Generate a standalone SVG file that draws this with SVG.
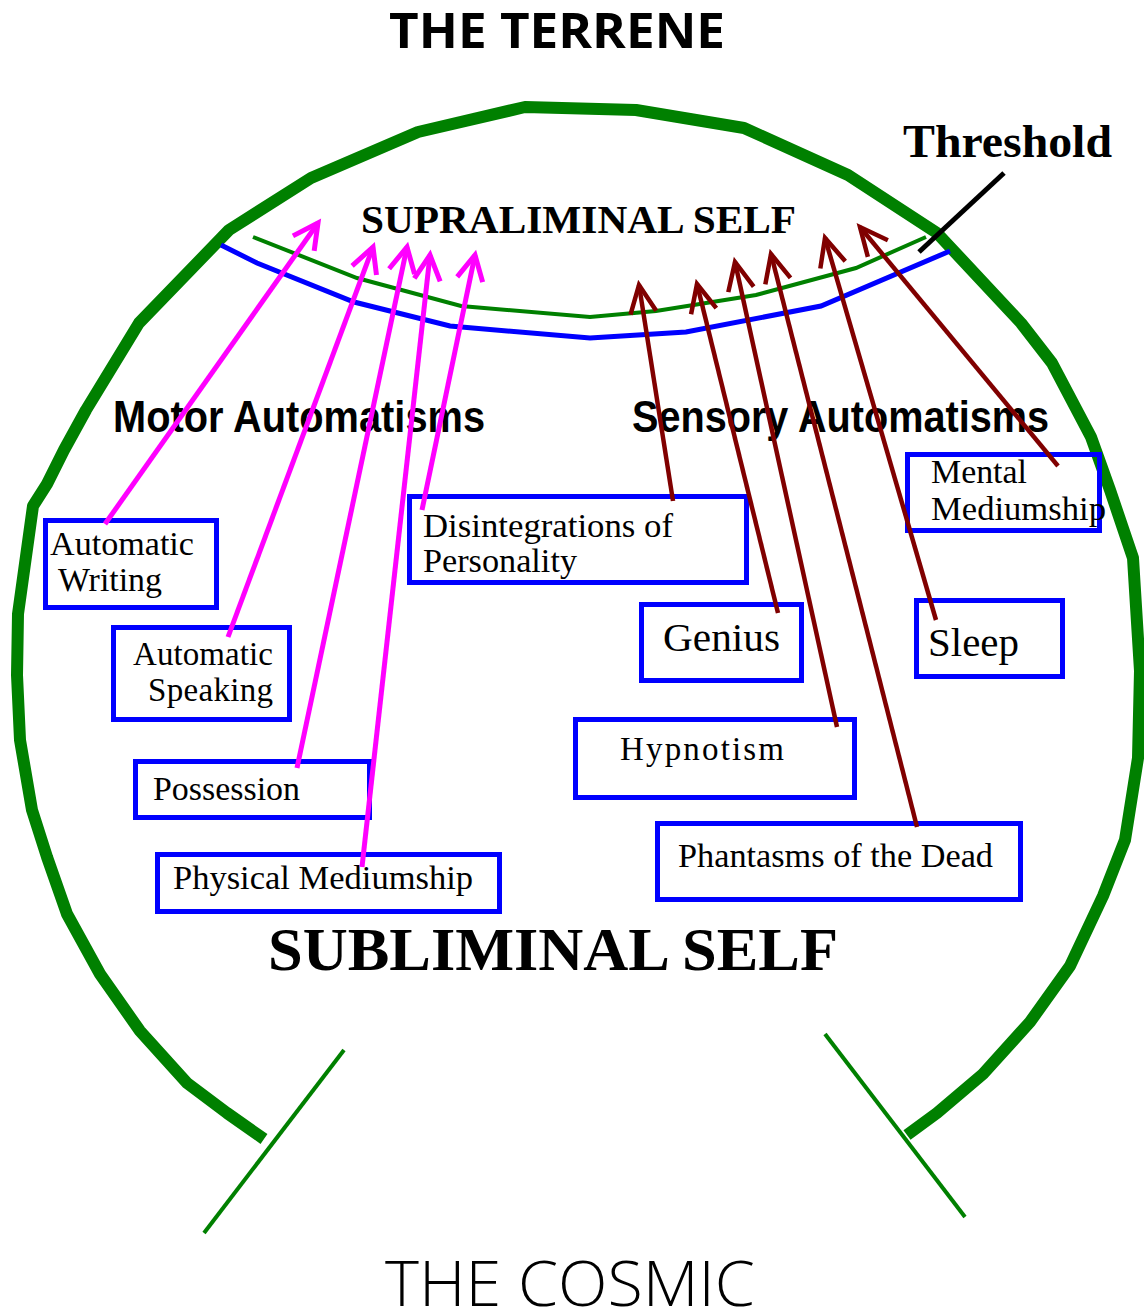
<svg xmlns="http://www.w3.org/2000/svg" width="1144" height="1313" viewBox="0 0 1144 1313">
<style>
.box{fill:none;stroke:#0000ff;stroke-width:5}
.bt{font-family:"Liberation Serif","Times New Roman",serif;font-size:33px;fill:#000}
.big{font-family:"Liberation Serif","Times New Roman",serif;font-size:41px;fill:#000}
.mag{stroke:#ff00ff;stroke-width:5;fill:none;marker-end:url(#am)}
.red{stroke:#800000;stroke-width:4.5;fill:none;marker-end:url(#ar)}
.hd{font-family:"Liberation Sans",Arial,sans-serif;font-weight:bold;font-size:45px;fill:#000}
.ser{font-family:"Liberation Serif","Times New Roman",serif;font-weight:bold;fill:#000}
</style>
<defs>
<marker id="am" markerUnits="userSpaceOnUse" orient="auto" refX="0" refY="0" markerWidth="40" markerHeight="40" viewBox="-30 -20 40 40" overflow="visible">
<path d="M-25,-13 L0,0 L-25,13" fill="none" stroke="#ff00ff" stroke-width="5"/>
</marker>
<marker id="ar" markerUnits="userSpaceOnUse" orient="auto" refX="0" refY="0" markerWidth="40" markerHeight="40" viewBox="-30 -20 40 40" overflow="visible">
<path d="M-28,-13 L0,0 L-28,13" fill="none" stroke="#800000" stroke-width="4.5"/>
</marker>
</defs>
<rect width="1144" height="1313" fill="#fff"/>

<g id="outer-boundary">
<path d="M264,1139 L227,1113 L187,1083 L140,1031 L100,974 L67,914 L47,857 L32,810 L20,740 L17,675 L18,614 L33,506 L47,484 L64,450 L86,410 L139,323 L229,230 L311,178 L418,132 L525,107 L636,110 L744,128 L848,175 L937,233 L1021,323 L1052,363 L1091,437 L1110,490 L1133,558 L1140,671 L1138,758 L1125,840 L1103,896 L1070,966 L1030,1022 L983,1074 L937,1113 L907,1135" fill="none" stroke="#008000" stroke-width="12" stroke-linejoin="round"/>
<line x1="344" y1="1050" x2="204" y2="1233" stroke="#008000" stroke-width="4"/>
<line x1="825" y1="1034" x2="965" y2="1217" stroke="#008000" stroke-width="4"/>
</g>

<g id="threshold">
<polyline points="253,237 357,278 461,306 590,317 656,311 756,295 856,268 926,237" fill="none" stroke="#008000" stroke-width="4"/>
<polyline points="221,245 257,263 354,302 450,326 590,338 686,332 821,306 950,251" fill="none" stroke="#0000ff" stroke-width="5"/>
<line x1="919" y1="252" x2="1004" y2="173" stroke="#000" stroke-width="5"/>
<text x="903" y="157" class="ser" font-size="46" textLength="209" lengthAdjust="spacingAndGlyphs">Threshold</text>
</g>

<g id="labels">
<text x="389" y="48" font-family="'Open Sans','Noto Sans',sans-serif" font-weight="bold" font-size="49" textLength="336" lengthAdjust="spacingAndGlyphs">THE TERRENE</text>
<text x="361" y="233" class="ser" font-size="41" textLength="435" lengthAdjust="spacingAndGlyphs">SUPRALIMINAL SELF</text>
<text x="113" y="432" class="hd" textLength="372" lengthAdjust="spacingAndGlyphs">Motor Automatisms</text>
<text x="632" y="432" class="hd" textLength="417" lengthAdjust="spacingAndGlyphs">Sensory Automatisms</text>
<text x="268" y="970" class="ser" font-size="62" textLength="570" lengthAdjust="spacingAndGlyphs">SUBLIMINAL SELF</text>
<text x="385" y="1306" font-family="'Open Sans','Noto Sans',sans-serif" font-weight="300" font-size="62" textLength="370" lengthAdjust="spacingAndGlyphs">THE COSMIC</text>
</g>

<g id="automatic-writing">
<rect class="box" x="45.5" y="520.5" width="171" height="87"/>
<text class="bt" x="50" y="555" textLength="144" lengthAdjust="spacingAndGlyphs">Automatic</text>
<text class="bt" x="58" y="591" textLength="104" lengthAdjust="spacingAndGlyphs">Writing</text>
</g>
<g id="automatic-speaking">
<rect class="box" x="113.5" y="627.5" width="176" height="92"/>
<text class="bt" x="133" y="665" textLength="140" lengthAdjust="spacing">Automatic</text>
<text class="bt" x="148" y="701" textLength="125" lengthAdjust="spacing">Speaking</text>
</g>
<g id="possession">
<rect class="box" x="135.5" y="761.5" width="234" height="56"/>
<text class="bt" x="153" y="800" textLength="147" lengthAdjust="spacingAndGlyphs">Possession</text>
</g>
<g id="physical-mediumship">
<rect class="box" x="157.5" y="854.5" width="342" height="57"/>
<text class="bt" x="173" y="889" textLength="300" lengthAdjust="spacingAndGlyphs">Physical Mediumship</text>
</g>
<g id="disintegrations">
<rect class="box" x="409.5" y="496.5" width="337" height="86"/>
<text class="bt" x="423" y="537" textLength="250" lengthAdjust="spacingAndGlyphs">Disintegrations of</text>
<text class="bt" x="423" y="572" textLength="154" lengthAdjust="spacingAndGlyphs">Personality</text>
</g>
<g id="genius">
<rect class="box" x="641.5" y="604.5" width="160" height="76"/>
<text class="big" x="663" y="651" textLength="117" lengthAdjust="spacingAndGlyphs">Genius</text>
</g>
<g id="sleep">
<rect class="box" x="916.5" y="600.5" width="146" height="76"/>
<text class="big" x="928" y="656" textLength="91" lengthAdjust="spacingAndGlyphs">Sleep</text>
</g>
<g id="mental-mediumship">
<rect class="box" x="907.5" y="454.5" width="192" height="76"/>
<text class="bt" x="931" y="483" textLength="96" lengthAdjust="spacingAndGlyphs">Mental</text>
<text class="bt" x="931" y="520" textLength="175" lengthAdjust="spacingAndGlyphs">Mediumship</text>
</g>
<g id="hypnotism">
<rect class="box" x="575.5" y="719.5" width="279" height="78"/>
<text class="bt" x="620" y="760" textLength="164" lengthAdjust="spacing">Hypnotism</text>
</g>
<g id="phantasms">
<rect class="box" x="657.5" y="823.5" width="363" height="76"/>
<text class="bt" x="678" y="867" textLength="315" lengthAdjust="spacingAndGlyphs">Phantasms of the Dead</text>
</g>

<g id="connectors">
<line class="mag" x1="105" y1="524" x2="318" y2="223"/>
<line class="mag" x1="228" y1="637" x2="373" y2="247"/>
<line class="mag" x1="297" y1="768" x2="407" y2="247"/>
<line class="mag" x1="362" y1="867" x2="430" y2="255"/>
<line class="mag" x1="422" y1="510" x2="475" y2="255"/>
<line class="red" x1="673" y1="501" x2="639" y2="285"/>
<line class="red" x1="778" y1="613" x2="697" y2="284"/>
<line class="red" x1="837" y1="727" x2="735" y2="262"/>
<line class="red" x1="917" y1="827" x2="771" y2="254"/>
<line class="red" x1="936" y1="620" x2="825" y2="238"/>
<line class="red" x1="1058" y1="466" x2="860" y2="227"/>
</g>
</svg>
